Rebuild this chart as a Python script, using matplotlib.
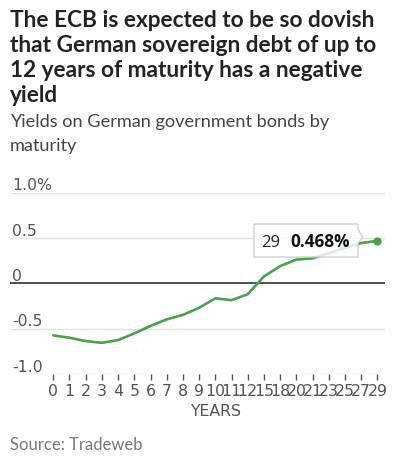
import matplotlib
matplotlib.use("Agg")
import matplotlib.pyplot as plt
import matplotlib.transforms as mtransforms
from matplotlib.patches import Polygon

maturities = ['0', '1', '2', '3', '4', '5', '6', '7', '8', '9', '10', '11', '12',
              '15', '18', '20', '21', '23', '25', '27', '29']
yields = [-0.574, -0.600, -0.637, -0.656, -0.626, -0.552, -0.470, -0.397, -0.348,
          -0.270, -0.165, -0.186, -0.120, 0.076, 0.190, 0.262, 0.276, 0.333,
          0.390, 0.445, 0.468]
ytick_vals = [-1.0, -0.5, 0, 0.5, 1.0]
ytick_labels = ['-1.0', '-0.5', '0', '0.5', '1.0%']

W, H = 398, 461
fig = plt.figure(figsize=(W / 100, H / 100), dpi=100)
fig.patch.set_facecolor('white')

def fx(x):
    return x / W

def fy(y):
    return 1 - y / H

TITLE_FONT = ['Lato', 'DejaVu Sans']
NARROW = ['Liberation Sans Narrow', 'DejaVu Sans']

title_lines = ["The ECB is expected to be so dovish",
               "that German sovereign debt of up to",
               "12 years of maturity has a negative",
               "yield"]
for i, line in enumerate(title_lines):
    fig.text(fx(10), fy(26.7 + 25 * i), line, family=TITLE_FONT, weight='bold',
             fontsize=16.3, color='#222222', va='baseline', ha='left')

sub_lines = ["Yields on German government bonds by", "maturity"]
for i, line in enumerate(sub_lines):
    fig.text(fx(10), fy(127 + 24 * i), line, family=TITLE_FONT, fontsize=13.1,
             color='#444444', va='baseline', ha='left')

ax_left, ax_right, ax_top, ax_bot = 10, 385, 192.7, 374
ax = fig.add_axes([fx(ax_left), fy(ax_bot), (ax_right - ax_left) / W,
                   (ax_bot - ax_top) / H])
ax.set_facecolor('none')
for s in ax.spines.values():
    s.set_visible(False)

ax.plot(maturities, yields, color='#4c9f50', lw=1.9, solid_capstyle='round',
        zorder=3, clip_on=False)
ax.plot([maturities[-1]], [yields[-1]], 'o', color='#4c9f50', ms=5, zorder=4,
        clip_on=False)

ax.set_xlim(-2.67, 20.47)
ax.set_ylim(-1.0, 1.0)

for v in ytick_vals:
    if v == 0:
        ax.axhline(v, color='#333333', lw=1.2, zorder=2)
    else:
        ax.axhline(v, color='#e2e2e2', lw=1.0, zorder=1)

off = mtransforms.offset_copy(ax.transData, fig=fig, x=0, y=2.5, units='dots')
blend = mtransforms.blended_transform_factory(ax.transAxes, off)
for v, lab in zip(ytick_vals, ytick_labels):
    ax.text(0.006, v, lab, transform=blend, family=NARROW, fontsize=11.3,
            color='#555555', ha='left', va='baseline')

ax.set_yticks([])
ax.tick_params(axis='x', direction='out', length=4.3, width=1, color='#555555',
               pad=3, labelsize=11.3, labelcolor='#555555')
for t in ax.get_xticklabels():
    t.set_fontfamily(NARROW)

fig.text(fx(215.5), fy(411), "YEARS", family=NARROW, fontsize=11.3,
         color='#555555', ha='center', va='center')

fig.text(fx(10), fy(450), "Source: Tradeweb", family=TITLE_FONT, fontsize=12,
         color='#777777', ha='left', va='baseline')

# tooltip
pts = [(254, 224), (358, 224), (358, 229), (363, 237), (358, 243), (358, 257),
       (254, 257)]
poly = Polygon([(fx(x), fy(y)) for x, y in pts], closed=True,
               transform=fig.transFigure, facecolor='white', alpha=0.82,
               edgecolor='none', zorder=5)
fig.add_artist(poly)
poly_e = Polygon([(fx(x), fy(y)) for x, y in pts], closed=True,
                 transform=fig.transFigure, facecolor='none',
                 edgecolor='#cccccc', lw=0.9, zorder=6)
fig.add_artist(poly_e)
fig.text(fx(261), fy(247.3), maturities[-1], family=['Open Sans', 'DejaVu Sans'],
         fontsize=12, color='#222222', ha='left', va='baseline', zorder=7)
fig.text(fx(290.5), fy(247.3), f"{yields[-1]:.3f}%",
         family=['Open Sans', 'DejaVu Sans'], weight='bold', fontsize=12.3,
         color='#111111', ha='left', va='baseline', zorder=7)

fig.savefig('out.png', dpi=100, facecolor='white')
